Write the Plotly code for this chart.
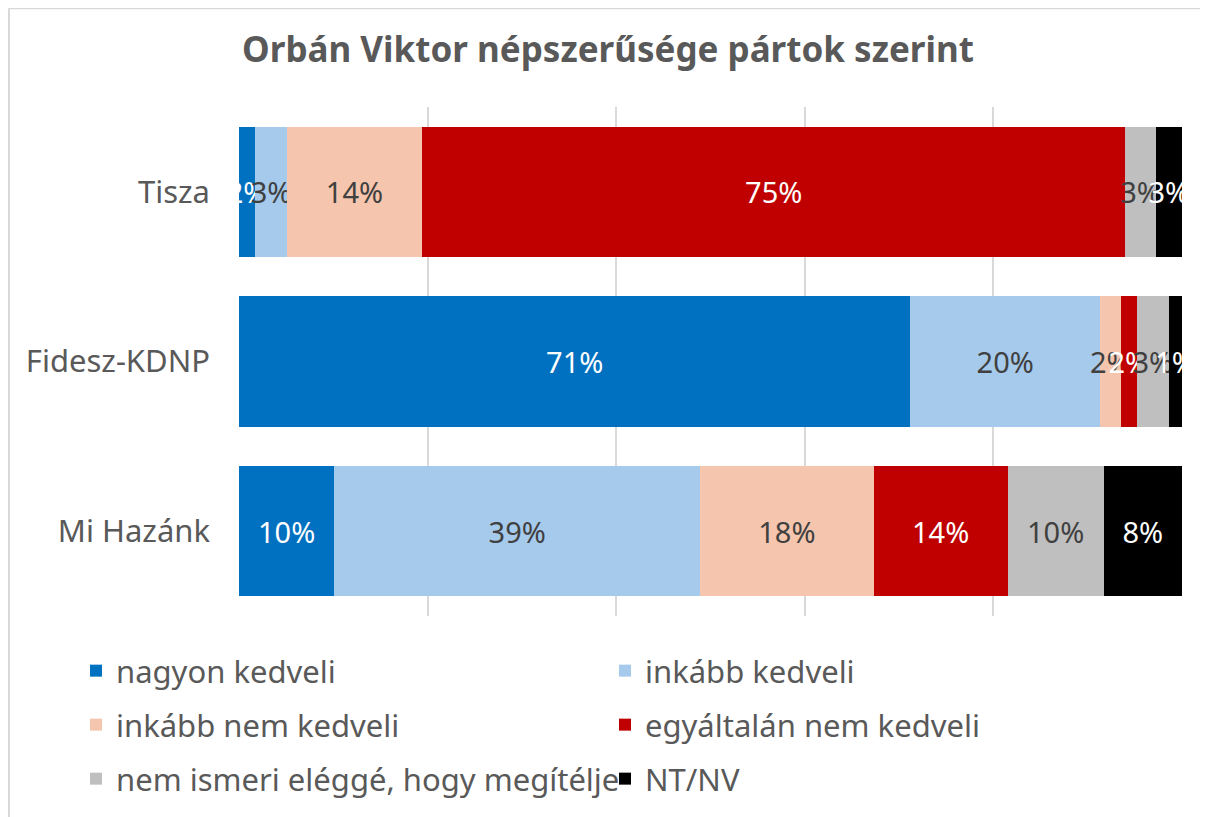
import plotly.graph_objects as go

categories = ["Tisza", "Fidesz-KDNP", "Mi Hazánk"]
series_names = ["nagyon kedveli", "inkább kedveli", "inkább nem kedveli",
                "egyáltalán nem kedveli", "nem ismeri eléggé, hogy megítélje", "NT/NV"]
nagyon = [1.7, 71.2, 10.1]
inkabb = [3.4, 20.1, 38.8]
inkabb_nem = [14.3, 2.2, 18.4]
egyaltalan = [74.6, 1.7, 14.2]
nem_ismeri = [3.2, 3.4, 10.2]
ntnv = [2.8, 1.4, 8.3]
values = [nagyon, inkabb, inkabb_nem, egyaltalan, nem_ismeri, ntnv]

colors = ["#0070C0", "#A6CAEC", "#F5C6AD", "#C00000", "#BFBFBF", "#000000"]
text_colors = ["#FFFFFF", "#404040", "#404040", "#FFFFFF", "#404040", "#FFFFFF"]
legend_ids = ["legend", "legend", "legend2", "legend2", "legend3", "legend3"]

FONT = "Noto Sans"
W, H = 1200, 809
L, R, T, B = 231, 26, 99, 200
PW, PH = W - L - R, H - T - B

fig = go.Figure()
for name, vals, c, tc, lg in zip(series_names, values, colors, text_colors, legend_ids):
    fig.add_trace(go.Bar(
        y=categories, x=vals, name=name, orientation="h",
        marker=dict(color=c, line=dict(width=0)),
        texttemplate="%{x:.0f}%", textposition="inside", insidetextanchor="middle",
        textangle=0, constraintext="none",
        textfont=dict(color=tc, size=29, family=FONT),
        width=0.77, hoverinfo="skip", legend=lg,
    ))

def px_x(x):
    return (x - L) / PW

def px_y(y):
    return (T + PH - y) / PH

leg_common = dict(orientation="h", x=px_x(68), xanchor="left", yanchor="top",
                  entrywidth=484, entrywidthmode="pixels", traceorder="normal",
                  bgcolor="rgba(0,0,0,0)",
                  font=dict(size=31, color="#595959", family=FONT))

fig.update_layout(
    width=W, height=H,
    barmode="stack",
    paper_bgcolor="white", plot_bgcolor="white",
    margin=dict(l=L, r=R, t=T, b=B),
    font=dict(family=FONT, color="#595959", size=30),
    title=dict(text="<b>Orbán Viktor népszerűsége pártok szerint</b>",
               x=0.5, xanchor="center", y=1 - 42 / H, yanchor="middle",
               font=dict(size=35, color="#595959", family=FONT)),
    uniformtext=dict(minsize=29, mode="show"),
    showlegend=True,
    legend=dict(y=px_y(636), **leg_common),
    legend2=dict(y=px_y(690), **leg_common),
    legend3=dict(y=px_y(744), **leg_common),
    xaxis=dict(range=[0, 100], dtick=20, showgrid=True, gridcolor="#D9D9D9", gridwidth=1.5,
               showticklabels=False, zeroline=False, showline=False, fixedrange=True),
    yaxis=dict(categoryorder="array", categoryarray=categories, range=[2.5, -0.5],
               showgrid=False, zeroline=False, showline=False, ticks="",
               ticklabelstandoff=28,
               tickfont=dict(size=31, color="#595959", family=FONT)),
    shapes=[
        dict(type="line", xref="paper", yref="paper", x0=px_x(1), x1=1.1,
             y0=px_y(0), y1=px_y(0), line=dict(color="#D9D9D9", width=2)),
        dict(type="line", xref="paper", yref="paper", x0=px_x(1), x1=px_x(1),
             y0=px_y(0), y1=-0.5, line=dict(color="#D9D9D9", width=2)),
    ],
)

fig.write_html("out.html")
